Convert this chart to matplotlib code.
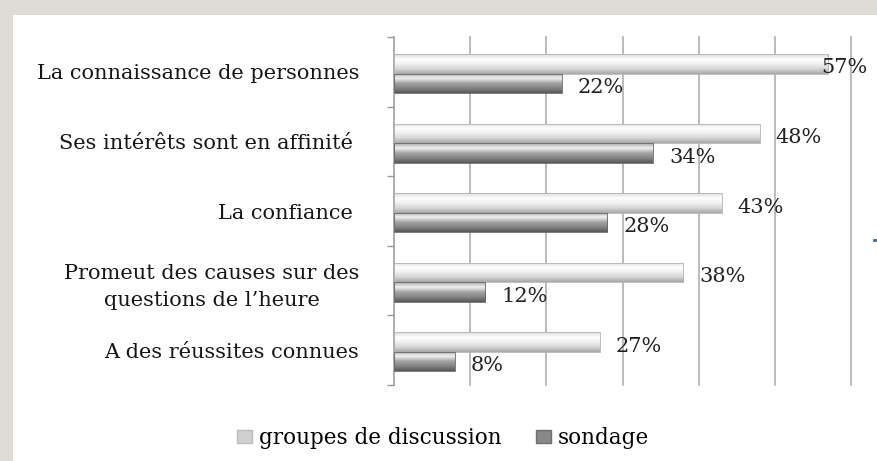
import numpy as np
import matplotlib
matplotlib.use("Agg")
import matplotlib.pyplot as plt
from matplotlib.colors import LinearSegmentedColormap
from matplotlib.patches import Patch, Rectangle
from matplotlib.lines import Line2D

# data
categories = ["La connaissance de personnes",
              "Ses intérêts sont en affinité ",
              "La confiance ",
              "Promeut des causes sur des\nquestions de l\u2019heure",
              "A des réussites connues"]
groupes = [57, 48, 43, 38, 27]
sondage = [22, 34, 28, 12, 8]
series_names = ["groupes de discussion", "sondage"]

plt.rcParams['font.family'] = ['DejaVu Serif']

fig = plt.figure(figsize=(8.77, 4.61), dpi=100)
fig.patch.set_facecolor("#dedbd6")
fig.patches.append(Rectangle((13/877, 0), 1, 1 - 15/461, transform=fig.transFigure,
                             facecolor="white", edgecolor="none", zorder=-10))

ax = fig.add_axes([394/877, 1 - 385/461, (851 - 394)/877, (385 - 37)/461])
ax.set_facecolor("none")
ax.set_zorder(2)

light_cmap = LinearSegmentedColormap.from_list("light", ["#dadada", "#ffffff", "#f0f0f0", "#d6d6d6", "#a8a8a8"])
dark_cmap = LinearSegmentedColormap.from_list("dark", ["#a8a8a8", "#f2f2f2", "#a4a4a4", "#858585", "#585858"])

y = np.arange(len(categories))
h = 0.28
off_light = -0.115
off_dark = 0.165

grad = np.linspace(0, 1, 64).reshape(-1, 1)

def draw_bars(vals, offset, cmap, edge):
    bars = ax.barh(y + offset, vals, height=h, color="none", edgecolor=edge, linewidth=0.6, zorder=3)
    for b, v in zip(bars, vals):
        yc = b.get_y() + h / 2
        im = ax.imshow(grad, extent=[0, v, yc + h/2, yc - h/2], origin="upper",
                       cmap=cmap, aspect="auto", zorder=2, interpolation="bilinear")
        im.set_clip_path(b)
    return bars

draw_bars(groupes, off_light, light_cmap, "#b4b4b4")
draw_bars(sondage, off_dark, dark_cmap, "#666666")

for i in range(len(categories)):
    for v, off in ((groupes[i], off_light), (sondage[i], off_dark)):
        ax.text(min(v + 2.1, 56.1), y[i] + off + 0.06, f"{v}%", ha="left", va="center",
                fontsize=15, color="#222222", zorder=5)

ax.set_xlim(0, 60)
ax.set_ylim(len(categories) - 0.5, -0.5)
ax.set_xticks(np.arange(10, 61, 10))
ax.xaxis.grid(True, color="#a8a8a8", linewidth=1.1)
for gl in ax.get_xgridlines():
    gl.set_clip_on(False)
ax.set_axisbelow(True)
ax.tick_params(axis="x", length=0, labelbottom=False)

ax.set_yticks(np.arange(-0.5, len(categories), 1))
ax.set_yticklabels([])
ax.set_yticks(y, minor=True)
ax.set_yticklabels(categories, minor=True, fontsize=15, color="#161616", ha="right",
                   multialignment="center", linespacing=1.55)
ax.tick_params(axis="y", which="major", length=5, color="#999999", width=1)
ax.tick_params(axis="y", which="minor", length=0, pad=25)

for s in ["top", "right", "bottom"]:
    ax.spines[s].set_visible(False)
ax.spines["left"].set_color("#999999")
ax.spines["left"].set_linewidth(1.1)

handles = [Patch(facecolor="#d0d0d0", edgecolor="#bcbcbc"),
           Patch(facecolor="#888888", edgecolor="#6e6e6e")]
fig.legend(handles, series_names, loc="center", bbox_to_anchor=(443/877, 1 - 438/461),
           ncol=2, frameon=False, fontsize=15.5, handlelength=0.7, handleheight=0.55,
           handletextpad=0.3, columnspacing=1.6)

fig.lines.append(Line2D([874/877, 876/877], [1 - 240/461, 1 - 240/461], transform=fig.transFigure,
                        color="#3a66aa", linewidth=2))

fig.savefig("out.png", dpi=100, facecolor=fig.get_facecolor())
